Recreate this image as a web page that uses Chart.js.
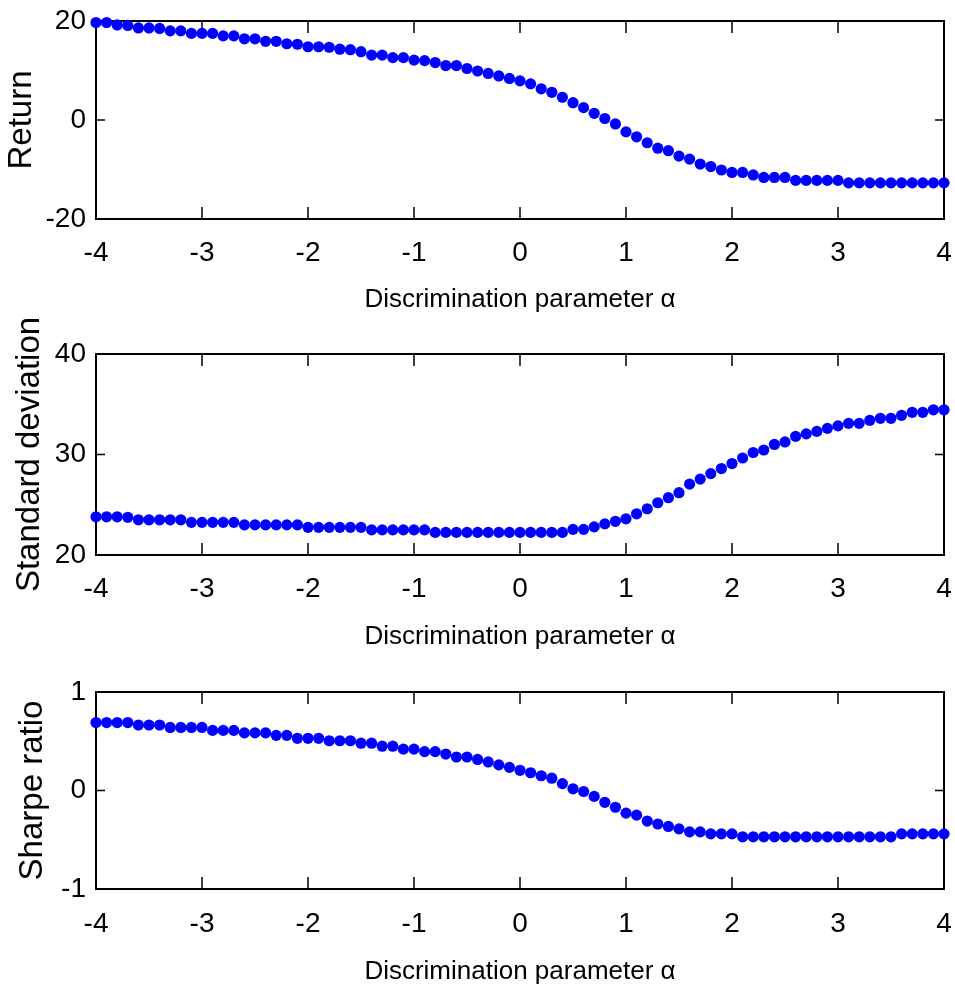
<!DOCTYPE html>
<html>
<head>
<meta charset="utf-8">
<script src="https://cdn.jsdelivr.net/npm/chart.js@4.4.1/dist/chart.umd.min.js"></script>
<style>
  body { margin: 0; background: #fff; }
  canvas { position: absolute; left: 0; }
</style>
</head>
<body>
<canvas id="returnChart" width="955" height="330" style="top:0"></canvas>
<canvas id="stdChart" width="955" height="360" style="top:300px"></canvas>
<canvas id="sharpeChart" width="955" height="357" style="top:630px"></canvas>
<script>
// Discrimination parameter alpha (x values)
const alphaValues = [
    -4.0, -3.9, -3.8, -3.7, -3.6, -3.5, -3.4, -3.3, -3.2, -3.1,
    -3.0, -2.9, -2.8, -2.7, -2.6, -2.5, -2.4, -2.3, -2.2, -2.1,
    -2.0, -1.9, -1.8, -1.7, -1.6, -1.5, -1.4, -1.3, -1.2, -1.1,
    -1.0, -0.9, -0.8, -0.7, -0.6, -0.5, -0.4, -0.3, -0.2, -0.1,
    0.0, 0.1, 0.2, 0.3, 0.4, 0.5, 0.6, 0.7, 0.8, 0.9,
    1.0, 1.1, 1.2, 1.3, 1.4, 1.5, 1.6, 1.7, 1.8, 1.9,
    2.0, 2.1, 2.2, 2.3, 2.4, 2.5, 2.6, 2.7, 2.8, 2.9,
    3.0, 3.1, 3.2, 3.3, 3.4, 3.5, 3.6, 3.7, 3.8, 3.9,
    4.0
];

const returnValues = [
    19.7, 19.7, 19.2, 19.1, 18.6, 18.6, 18.5, 18.0, 18.0, 17.5,
    17.5, 17.5, 17.0, 17.0, 16.4, 16.4, 15.9, 15.9, 15.4, 15.3,
    14.8, 14.8, 14.7, 14.3, 14.2, 13.8, 13.1, 13.1, 12.6, 12.6,
    12.1, 12.0, 11.6, 11.0, 11.0, 10.4, 9.9, 9.4, 8.9, 8.4,
    7.9, 7.3, 6.3, 5.6, 4.6, 3.5, 2.5, 1.35, 0.3, -0.8,
    -2.4, -3.4, -4.6, -5.7, -6.2, -7.3, -7.9, -8.9, -9.4, -10.1,
    -10.6, -10.6, -11.1, -11.6, -11.6, -11.6, -12.2, -12.2, -12.2, -12.2,
    -12.2, -12.7, -12.7, -12.7, -12.7, -12.7, -12.7, -12.7, -12.7, -12.7,
    -12.7
];

const stdValues = [
    23.8, 23.8, 23.8, 23.75, 23.5, 23.5, 23.5, 23.5, 23.5, 23.25,
    23.25, 23.25, 23.25, 23.25, 23.0, 23.0, 23.0, 23.0, 23.0, 23.0,
    22.75, 22.75, 22.75, 22.75, 22.75, 22.75, 22.5, 22.5, 22.5, 22.5,
    22.5, 22.5, 22.25, 22.25, 22.25, 22.25, 22.25, 22.25, 22.25, 22.25,
    22.25, 22.25, 22.25, 22.25, 22.25, 22.55, 22.55, 22.8, 23.1, 23.35,
    23.6, 24.1, 24.6, 25.2, 25.7, 26.2, 27.05, 27.55, 28.1, 28.6,
    29.1, 29.65, 30.2, 30.45, 31.0, 31.25, 31.8, 32.05, 32.3, 32.6,
    32.85, 33.1, 33.1, 33.4, 33.6, 33.6, 33.9, 34.2, 34.2, 34.45,
    34.45
];

const sharpeValues = [
    0.69, 0.69, 0.69, 0.69, 0.665, 0.665, 0.665, 0.64, 0.64, 0.64,
    0.64, 0.61, 0.61, 0.61, 0.585, 0.585, 0.585, 0.56, 0.56, 0.53,
    0.53, 0.53, 0.505, 0.505, 0.505, 0.48, 0.48, 0.45, 0.45, 0.42,
    0.42, 0.395, 0.395, 0.37, 0.34, 0.34, 0.315, 0.29, 0.26, 0.235,
    0.205, 0.18, 0.15, 0.125, 0.07, 0.017, -0.01, -0.06, -0.12, -0.17,
    -0.23, -0.25, -0.31, -0.34, -0.365, -0.39, -0.42, -0.42, -0.44, -0.44,
    -0.44, -0.47, -0.47, -0.47, -0.47, -0.47, -0.47, -0.47, -0.47, -0.47,
    -0.47, -0.47, -0.47, -0.47, -0.47, -0.47, -0.44, -0.44, -0.44, -0.44,
    -0.44
];

const xTicks = [-4, -3, -2, -1, 0, 1, 2, 3, 4];
const xTitle = 'Discrimination parameter \u03B1';

Chart.defaults.color = '#000';

// Box around the plot area with inward tick marks on all four sides
const frameTicks = {
    id: 'frameTicks',
    beforeDatasetsDraw(chart) {
        const { ctx, chartArea: a, scales: { x, y } } = chart;
        ctx.save();
        ctx.strokeStyle = '#000';
        ctx.lineWidth = 1.5;
        ctx.beginPath();
        x.ticks.forEach(t => {
            const px = x.getPixelForValue(t.value);
            ctx.moveTo(px, a.bottom);
            ctx.lineTo(px, a.bottom - 12);
            ctx.moveTo(px, a.top);
            ctx.lineTo(px, a.top + 12);
        });
        y.ticks.forEach(t => {
            const py = y.getPixelForValue(t.value);
            ctx.moveTo(a.left, py);
            ctx.lineTo(a.left + 9, py);
            ctx.moveTo(a.right, py);
            ctx.lineTo(a.right - 9, py);
        });
        ctx.stroke();
        ctx.lineWidth = 2;
        ctx.strokeRect(a.left, a.top, a.right - a.left, a.bottom - a.top);
        ctx.restore();
    }
};

const tickFont = { family: 'Liberation Sans', size: 28, lineHeight: 1 };

function makePanel(id, values, yMin, yMax, yStep, yTitle, p) {
    const ctx = document.getElementById(id).getContext('2d');
    return new Chart(ctx, {
        type: 'scatter',
        data: {
            datasets: [{
                data: alphaValues.map((a, i) => ({ x: a, y: values[i] })),
                backgroundColor: '#0000ff',
                borderWidth: 0,
                pointRadius: 5.6,
                clip: false
            }]
        },
        options: {
            responsive: false,
            animation: false,
            layout: { padding: { top: p.top, right: 11, bottom: 0, left: 0 } },
            plugins: {
                legend: { display: false },
                tooltip: { enabled: false }
            },
            scales: {
                x: {
                    type: 'linear',
                    min: -4,
                    max: 4,
                    afterBuildTicks: scale => {
                        scale.ticks = xTicks.map(v => ({ value: v }));
                    },
                    afterFit: scale => {
                        scale.height = p.xHeight;
                        scale.paddingLeft = 0;
                        scale.paddingRight = 0;
                    },
                    grid: { display: false, drawTicks: false },
                    border: { display: false },
                    ticks: { padding: p.xTickPad, font: tickFont },
                    title: {
                        display: true,
                        text: xTitle,
                        padding: { top: 0, bottom: p.xTitlePad },
                        font: { family: 'Liberation Sans', size: 26, lineHeight: 1 }
                    }
                },
                y: {
                    min: yMin,
                    max: yMax,
                    afterFit: scale => {
                        scale.width = 96;
                        scale.paddingTop = 0;
                        scale.paddingBottom = 0;
                    },
                    grid: { display: false, drawTicks: false },
                    border: { display: false },
                    ticks: { stepSize: yStep, padding: 10, font: tickFont },
                    title: {
                        display: true,
                        text: yTitle,
                        padding: { top: p.yTitlePad, bottom: 0 },
                        font: { family: 'Liberation Sans', size: 33 }
                    }
                }
            }
        },
        plugins: [frameTicks]
    });
}

makePanel('returnChart', returnValues, -20, 20, 20, 'Return',
    { top: 21, xHeight: 111, xTickPad: 20, xTitlePad: 17, yTitlePad: 2 });
makePanel('stdChart', stdValues, 20, 40, 10, 'Standard deviation',
    { top: 54, xHeight: 105, xTickPad: 20, xTitlePad: 10, yTitlePad: 10 });
makePanel('sharpeChart', sharpeValues, -1, 1, 1, 'Sharpe ratio',
    { top: 62, xHeight: 98, xTickPad: 21, xTitlePad: 2, yTitlePad: 13 });
</script>
</body>
</html>
